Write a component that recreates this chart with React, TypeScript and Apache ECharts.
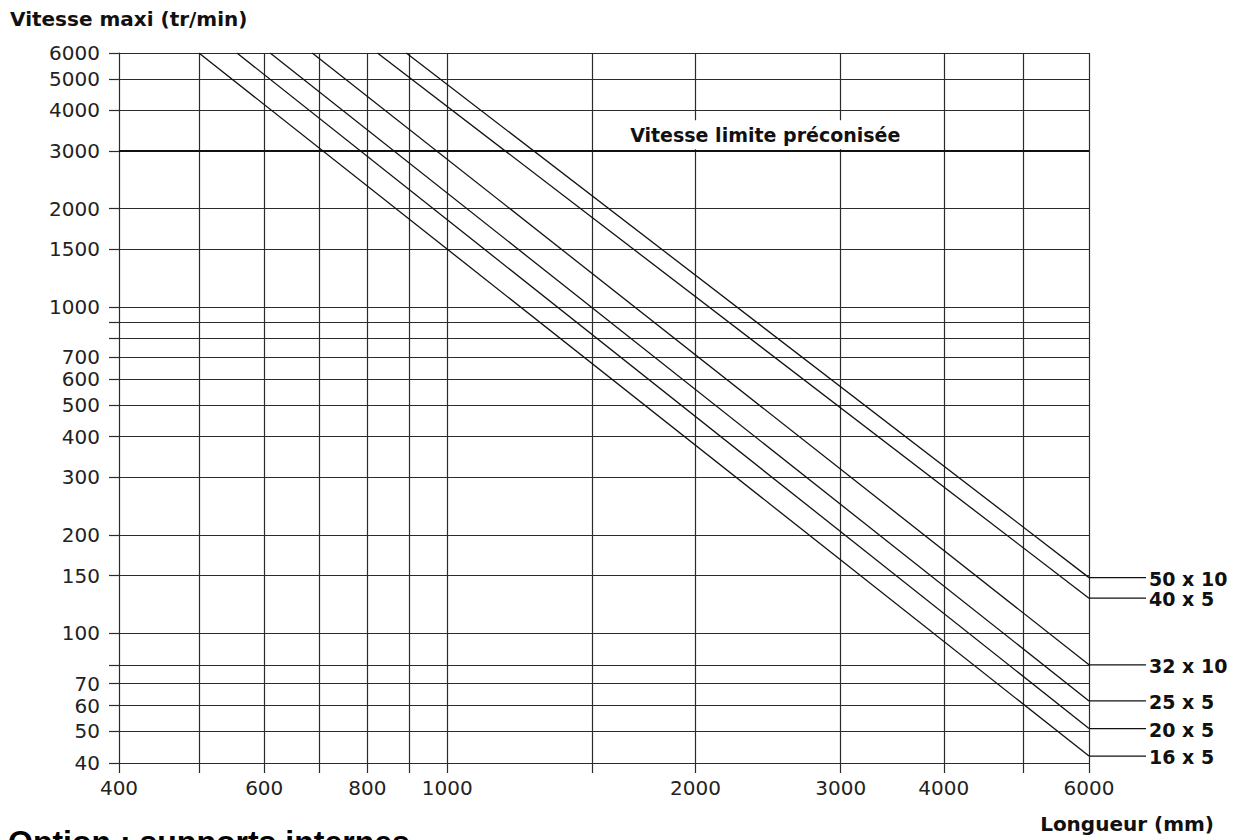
import React, { useEffect, useRef } from "react";
import * as echarts from "echarts";

// ---- Data ----
const X_MIN = 400;
const X_MAX = 6000;
const Y_MIN = 40;
const Y_MAX = 6000;

// Vertical grid lines (Longueur, mm)
const X_GRID = [500, 600, 700, 800, 900, 1000, 1500, 2000, 3000, 4000, 5000, 6000];
const X_LABELS = [400, 600, 800, 1000, 2000, 3000, 4000, 6000];

// Horizontal grid lines (Vitesse, tr/min)
const Y_GRID = [6000, 5000, 4000, 2000, 1500, 1000, 900, 800, 700, 600, 500, 400, 300, 200, 150, 100, 80, 70, 60, 50];
const Y_LABELS = [6000, 5000, 4000, 3000, 2000, 1500, 1000, 700, 600, 500, 400, 300, 200, 150, 100, 70, 60, 50, 40];

const LIMIT_SPEED = 3000;
const LIMIT_LABEL = "Vitesse limite préconisée";
const LIMIT_LABEL_AT = 2430; // length where the label is centred

// Screw curves: each goes from (startLength, 6000) to (6000, endSpeed)
const SCREWS = ["50 x 10", "40 x 5", "32 x 10", "25 x 5", "20 x 5", "16 x 5"];
const START_LENGTH = [892, 823, 686, 610, 556, 500];
const END_SPEED = [148, 128, 80, 62, 51, 42];

const FONT = "'DejaVu Sans', sans-serif";
const GRID_COLOR = "#2b2b2b";
const LEADER_LEN = 57;

export default function App() {
  const ref = useRef<HTMLDivElement>(null);

  useEffect(() => {
    if (!ref.current) return;
    const chart = echarts.init(ref.current, undefined, { renderer: "svg" });

    const screwSeries = SCREWS.map((name, i) => ({
      name,
      type: "line",
      z: 5,
      symbol: "none",
      silent: true,
      data: [
        [START_LENGTH[i], Y_MAX],
        [X_MAX, END_SPEED[i]],
      ],
      lineStyle: { color: "#111", width: 1.3 },
    }));

    const baseGraphics: any[] = [
      {
        type: "text",
        left: 10,
        top: 9,
        style: {
          text: "Vitesse maxi (tr/min)",
          font: `bold 20px ${FONT}`,
          fill: "#111",
        },
      },
      {
        type: "text",
        right: 26,
        top: 814,
        style: {
          text: "Longueur (mm)",
          font: `bold 20px ${FONT}`,
          fill: "#111",
        },
      },
      {
        type: "text",
        left: 8,
        top: 826,
        style: {
          text: "Option : supports internes",
          font: `bold 32px 'Liberation Sans', Arial, sans-serif`,
          fill: "#000",
        },
      },
    ];

    const option: any = {
      animation: false,
      backgroundColor: "#fff",
      grid: { left: 119, right: 151, top: 53, bottom: 77 },
      xAxis: {
        type: "log",
        logBase: 10,
        min: X_MIN,
        max: X_MAX,
        axisLine: { show: true, lineStyle: { color: GRID_COLOR, width: 1.2 } },
        axisTick: {
          show: true,
          customValues: [X_MIN, ...X_GRID],
          length: 10,
          lineStyle: { color: GRID_COLOR, width: 1.2 },
        },
        axisLabel: {
          customValues: X_LABELS,
          formatter: (v: number) => String(Math.round(v)),
          margin: 15,
          fontFamily: FONT,
          fontSize: 20,
          color: "#222",
        },
        splitLine: { show: false },
        minorSplitLine: { show: false },
      },
      yAxis: {
        type: "log",
        logBase: 10,
        min: Y_MIN,
        max: Y_MAX,
        axisLine: { show: true, lineStyle: { color: GRID_COLOR, width: 1.2 } },
        axisTick: {
          show: true,
          customValues: [Y_MIN, LIMIT_SPEED, ...Y_GRID],
          length: 10,
          lineStyle: { color: GRID_COLOR, width: 1.2 },
        },
        axisLabel: {
          customValues: Y_LABELS,
          formatter: (v: number) => String(Math.round(v)),
          margin: 19,
          fontFamily: FONT,
          fontSize: 20,
          color: "#222",
        },
        splitLine: { show: false },
        minorSplitLine: { show: false },
      },
      graphic: baseGraphics,
      series: [
        {
          name: "grid",
          type: "line",
          z: 2,
          silent: true,
          data: [],
          markLine: {
            silent: true,
            symbol: ["none", "none"],
            label: { show: false },
            lineStyle: { color: GRID_COLOR, width: 1.2, type: "solid" },
            emphasis: { disabled: true },
            data: [
              ...X_GRID.map((v) => ({ xAxis: v })),
              ...Y_GRID.map((v) => ({ yAxis: v })),
            ],
          },
        },
        {
          name: "limit-label",
          type: "line",
          z: 3,
          silent: true,
          data: [],
          markPoint: {
            silent: true,
            symbol: "rect",
            symbolSize: 0,
            data: [{ coord: [LIMIT_LABEL_AT, LIMIT_SPEED] }],
            label: {
              show: true,
              position: "inside",
              offset: [0, -16.5],
              formatter: LIMIT_LABEL,
              backgroundColor: "#fff",
              padding: [4, 12, 4, 12],
              lineHeight: 21,
              fontFamily: FONT,
              fontSize: 19,
              fontWeight: "bold",
              color: "#111",
            },
          },
        },
        {
          name: "limit",
          type: "line",
          z: 4,
          silent: true,
          data: [],
          markLine: {
            silent: true,
            symbol: ["none", "none"],
            label: { show: false },
            lineStyle: { color: "#111", width: 2, type: "solid" },
            emphasis: { disabled: true },
            data: [{ yAxis: LIMIT_SPEED }],
          },
        },
        ...screwSeries,
      ],
    };

    chart.setOption(option);

    // Leader lines and labels at the right end of each curve
    const leaders: any[] = [];
    SCREWS.forEach((name, i) => {
      const p = chart.convertToPixel({ xAxisIndex: 0, yAxisIndex: 0 }, [X_MAX, END_SPEED[i]]) as number[];
      if (!p) return;
      leaders.push({
        type: "line",
        silent: true,
        z: 10,
        shape: { x1: p[0], y1: p[1], x2: p[0] + LEADER_LEN, y2: p[1] },
        style: { stroke: "#111", lineWidth: 1.2 },
      });
      leaders.push({
        type: "text",
        silent: true,
        z: 10,
        x: p[0] + LEADER_LEN + 3,
        y: p[1] + 1,
        style: {
          text: name,
          font: `bold 19px ${FONT}`,
          fill: "#111",
          verticalAlign: "middle",
          align: "left",
        },
      });
    });
    chart.setOption({ graphic: [...baseGraphics, ...leaders] });

    return () => chart.dispose();
  }, []);

  return (
    <div
      ref={ref}
      style={{ position: "absolute", left: 0, top: 0, width: 1240, height: 840, background: "#fff" }}
    />
  );
}
